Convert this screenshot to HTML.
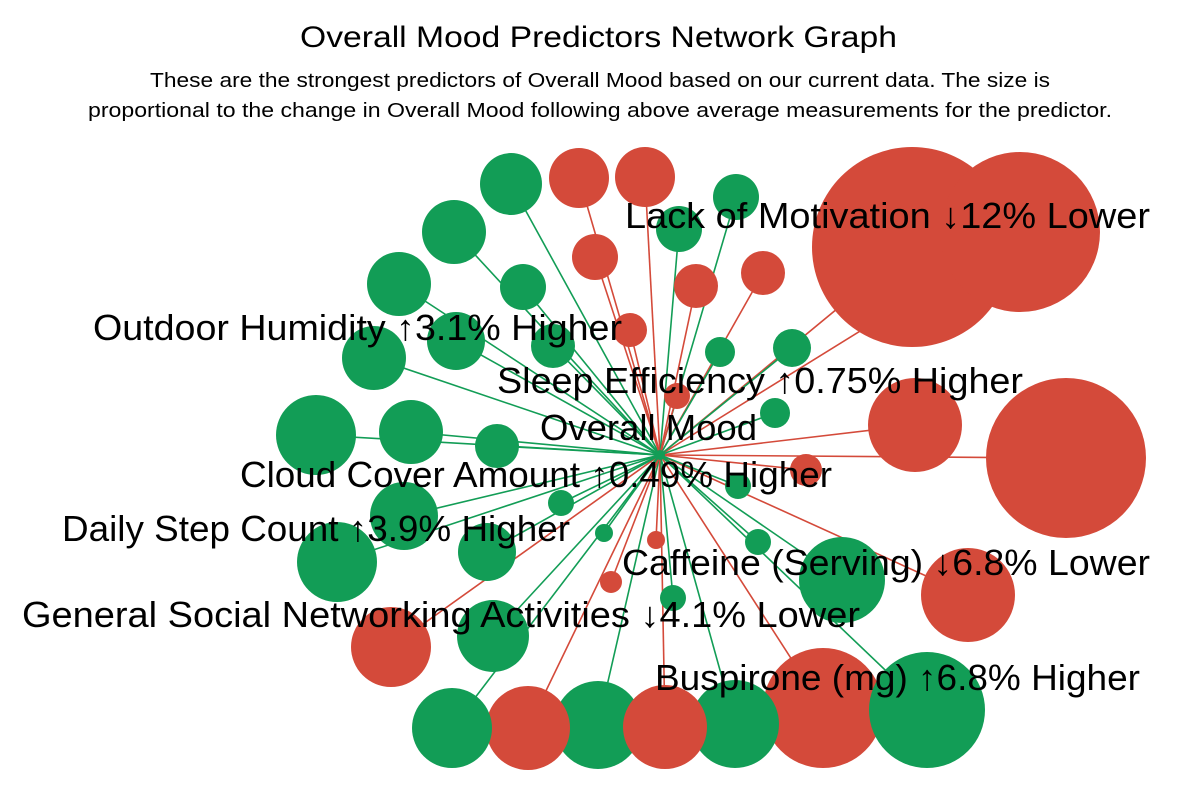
<!DOCTYPE html>
<html><head><meta charset="utf-8"><style>
body{margin:0;background:#fff}
svg text{font-family:"Liberation Sans Narrow","Liberation Sans",sans-serif;fill:#000}
</style></head><body>
<svg id="chart" width="1200" height="800" viewBox="0 0 1200 800">
<text x="300" y="47" font-size="30" textLength="597" lengthAdjust="spacingAndGlyphs">Overall Mood Predictors Network Graph</text>
<text x="150" y="87" font-size="20" textLength="900" lengthAdjust="spacingAndGlyphs">These are the strongest predictors of Overall Mood based on our current data. The size is</text>
<text x="88" y="117" font-size="20" textLength="1024" lengthAdjust="spacingAndGlyphs">proportional to the change in Overall Mood following above average measurements for the predictor.</text>
<g id="edges"></g>
<g id="nodes"></g>
<g id="labels"></g>
</svg>
<script>
// node effect sizes (radius units) and direction (1 = higher / green, -1 = lower / red)
const nodeSizes = [100,80,80,47,47,60,42,42,40,30,30,23,22,22,17,13,16,11,9,
  31,32,32,32,29,23,22,23,23,15,19,15,40,32,22,34,40,29,13,9,13,13,43,13,36,40,44,44,58];
const nodeSign = [-1,-1,-1,-1,-1,-1,-1,-1,-1,-1,-1,-1,-1,-1,-1,-1,-1,-1,-1,
  1,1,1,1,1,1,1,1,1,1,1,1,1,1,1,1,1,1,1,1,1,1,1,1,1,1,1,1,1];
// layout (force-directed output)
const layoutX = [912,1020,1066,915,968,823,665,528,391,579,645,595,696,763,630,677,806,611,656,
  511,454,399,374,456,523,553,679,736,720,792,775,316,411,497,404,337,487,561,604,738,758,842,673,493,452,598,735,927];
const layoutY = [247,232,458,425,595,708,727,728,647,178,177,257,286,273,330,396,470,582,540,
  184,232,284,358,341,287,346,229,197,352,348,413,435,432,446,516,562,552,503,533,486,542,580,598,636,728,725,724,710];
const labelTexts = ["Lack of Motivation ↓12% Lower","Outdoor Humidity ↑3.1% Higher","Sleep Efficiency ↑0.75% Higher","Overall Mood","Cloud Cover Amount ↑0.49% Higher","Daily Step Count ↑3.9% Higher","Caffeine (Serving) ↓6.8% Lower","General Social Networking Activities ↓4.1% Lower","Buspirone (mg) ↑6.8% Higher"];
const labelX=[625,93,497,540,240,62,622,22,655], labelY=[228,340,393,440,487,541,575,627,690], labelW=[525,529,526,217,592,508,528,838,485];
const cx=660, cy=455;
const NS="http://www.w3.org/2000/svg";
const E=document.getElementById('edges'),N=document.getElementById('nodes'),L=document.getElementById('labels');
const col=s=>s>0?'#129d56':'#d44a3a';
// draw larger nodes first
const order=nodeSizes.map((v,i)=>i).sort((a,b)=>nodeSizes[b]-nodeSizes[a]);
order.forEach(i=>{
  const l=document.createElementNS(NS,'line');
  l.setAttribute('x1',cx);l.setAttribute('y1',cy);l.setAttribute('x2',layoutX[i]);l.setAttribute('y2',layoutY[i]);
  l.setAttribute('stroke',col(nodeSign[i]));l.setAttribute('stroke-width','1.6');
  
  
  E.appendChild(l);
  const c=document.createElementNS(NS,'circle');
  c.setAttribute('cx',layoutX[i]);c.setAttribute('cy',layoutY[i]);c.setAttribute('r',nodeSizes[i]);
  c.setAttribute('fill',col(nodeSign[i]));
  
  
  N.appendChild(c);
});
const ctr=document.createElementNS(NS,'circle');
ctr.setAttribute('cx',cx);ctr.setAttribute('cy',cy);ctr.setAttribute('r',5);ctr.setAttribute('fill','#129d56');


N.appendChild(ctr);
labelTexts.forEach((t,i)=>{
  const tx=document.createElementNS(NS,'text');
  tx.setAttribute('x',labelX[i]);tx.setAttribute('y',labelY[i]);tx.setAttribute('font-size','36');
  tx.setAttribute('textLength',labelW[i]);tx.setAttribute('lengthAdjust','spacingAndGlyphs');
  tx.textContent=t;
  
  
  L.appendChild(tx);
});
</script>
</body></html>
